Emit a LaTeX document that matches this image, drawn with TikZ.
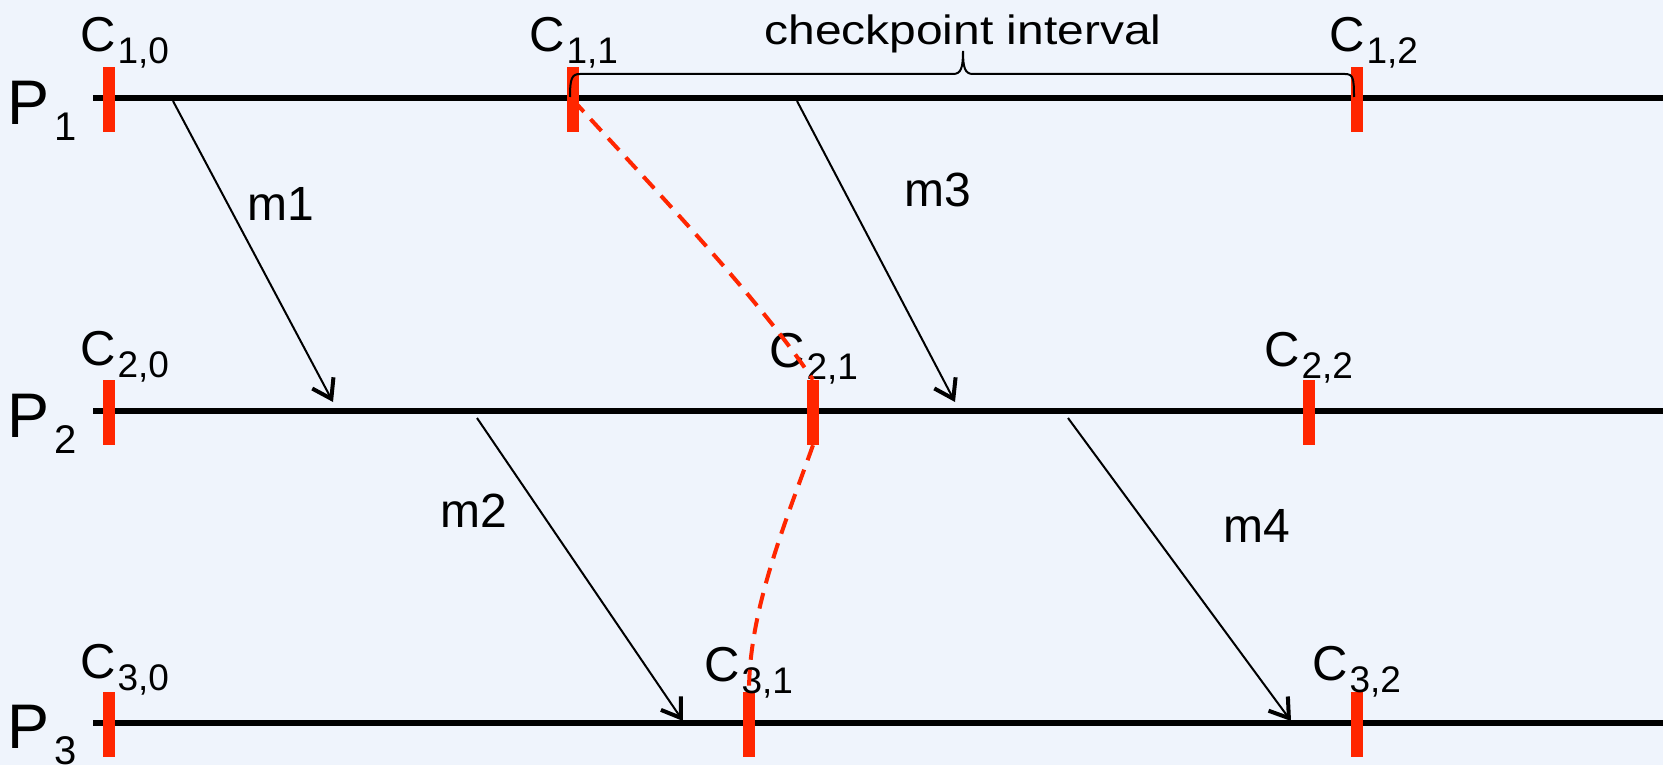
\documentclass[tikz,border=0pt]{standalone}
\usepackage{fontspec}
\setmainfont{Liberation Sans}
\usetikzlibrary{arrows.meta}
\definecolor{bg}{RGB}{239,244,252}
\definecolor{ckred}{RGB}{255,38,0}
\newcommand{\CkLab}[1]{C\kern1.5pt\raisebox{-12pt}{\fontsize{37}{37}\selectfont #1}}
\newcommand{\PLab}[1]{P\kern5pt\raisebox{-16pt}{\fontsize{40}{40}\selectfont #1}}
\begin{document}
\begin{tikzpicture}[x=1pt,y=-1pt,
  proc/.style={line width=6pt},
  ckpt/.style={rectangle,fill=ckred,draw=none,minimum width=12pt,minimum height=65pt,inner sep=0pt},
  msg/.style={line width=2pt,-{Straight Barb[length=18pt,width=24pt,line width=4pt]}},
  dep/.style={ckred,line width=4pt,dash pattern=on 16pt off 10pt},
  clab/.style={font=\fontsize{49}{49}\selectfont,anchor=base west,inner sep=0pt},
  plab/.style={font=\fontsize{63}{63}\selectfont,anchor=base west,inner sep=0pt},
  mlab/.style={font=\fontsize{48}{48}\selectfont,anchor=base west,inner sep=0pt},
  brace/.style={line width=2pt}]
\fill[bg] (0,0) rectangle (1663,765);
\useasboundingbox (0,0) rectangle (1663,765);
% process lines
\coordinate (p1s) at (93,98.5); \coordinate (p1e) at (1663,98.5);
\coordinate (p2s) at (93,411);  \coordinate (p2e) at (1663,411);
\coordinate (p3s) at (93,723);  \coordinate (p3e) at (1663,723);
\draw[proc] (p1s) -- (p1e);
\draw[proc] (p2s) -- (p2e);
\draw[proc] (p3s) -- (p3e);
% process labels
\node[plab] (P1) at (7,124.5) {\PLab{1}};
\node[plab] (P2) at (7,437) {\PLab{2}};
\node[plab] (P3) at (7,748) {\PLab{3}};
% checkpoints
\node[ckpt] (c10) at (109,100) {};
\node[ckpt] (c11) at (573,100) {};
\node[ckpt] (c12) at (1357,100) {};
\node[ckpt] (c20) at (109,412.5) {};
\node[ckpt] (c21) at (813,412.5) {};
\node[ckpt] (c22) at (1309,412.5) {};
\node[ckpt] (c30) at (109,724.5) {};
\node[ckpt] (c31) at (749,724.5) {};
\node[ckpt] (c32) at (1357,724.5) {};
% checkpoint labels
\node[clab] (l10) at (80.5,51.5) {\CkLab{1,0}};
\node[clab] (l11) at (529.5,51.5) {\CkLab{1,1}};
\node[clab] (l12) at (1329.5,51.5) {\CkLab{1,2}};
\node[clab] (l20) at (80.5,365) {\CkLab{2,0}};
\node[clab] (l21) at (769.5,367) {\CkLab{2,1}};
\node[clab] (l22) at (1264.5,366) {\CkLab{2,2}};
\node[clab] (l30) at (80.5,678) {\CkLab{3,0}};
\node[clab] (l31) at (704.5,681) {\CkLab{3,1}};
\node[clab] (l32) at (1312.5,680) {\CkLab{3,2}};
% checkpoint interval brace
\draw[brace] (570,97) .. controls (570,78) and (572,74) .. (580,74) -- (953,74)
  .. controls (961,74) and (963,68) .. (963,51)
  .. controls (963,68) and (965,74) .. (973,74) -- (1345,74)
  .. controls (1353,74) and (1354,78) .. (1354,97);
\node[anchor=base,inner sep=0pt,font=\fontsize{41}{41}\selectfont] (ci) at (963,45)
  {\scalebox{1.17}[1]{checkpoint interval}};
% messages
\coordinate (m1s) at (173,101);  \coordinate (m1e) at (333,402);
\coordinate (m3s) at (797,101);  \coordinate (m3e) at (955,402);
\coordinate (m2s) at (477,418);  \coordinate (m2e) at (683,721);
\coordinate (m4s) at (1068,418); \coordinate (m4e) at (1291,721);
\draw[msg] (m1s) -- (m1e);
\draw[msg] (m3s) -- (m3e);
\draw[msg] (m2s) -- (m2e);
\draw[msg] (m4s) -- (m4e);
\node[mlab] (lm1) at (247,220) {m1};
\node[mlab] (lm3) at (904,206) {m3};
\node[mlab] (lm2) at (440,527) {m2};
\node[mlab] (lm4) at (1223,542) {m4};
% recovery line
\draw[dep] (c11.center) .. controls (660,195) and (760,300) .. (c21.north);
\draw[dep] (c21.south) .. controls (784,526) and (749,611) .. (c31.north);
\end{tikzpicture}
\end{document}
